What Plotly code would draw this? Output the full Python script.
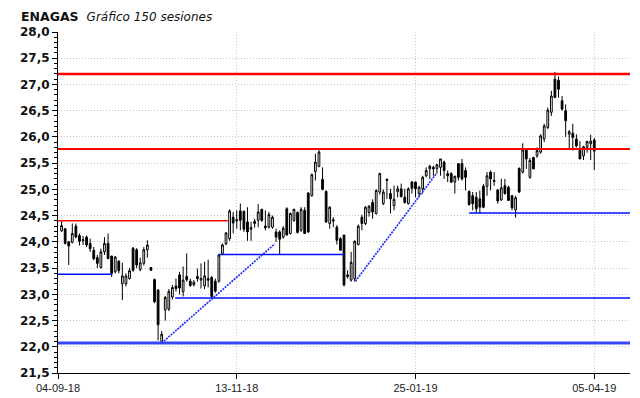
import plotly.graph_objects as go

# ---------------- data (session index 0..149) ----------------
opens = [24.21, 24.25, 24.00, 23.99, 24.30, 24.12, 24.02, 24.09, 23.97, 23.84,
         23.70, 23.51, 23.81, 23.97, 23.73, 23.43, 23.63, 23.20, 23.20, 23.30,
         23.88, 23.85, 23.47, 23.59, 23.85, 23.51, 23.28, 23.08, 22.09, 22.70,
         22.72, 22.95, 23.16, 23.37, 23.05, 23.34, 23.25, 23.18, 23.34, 23.27,
         23.16, 23.30, 23.32, 23.25, 23.25, 23.78, 23.96, 24.06, 24.47, 24.40,
         24.59, 24.58, 24.38, 24.24, 24.35, 24.41, 24.62, 24.30, 24.28, 24.28,
         24.19, 24.19, 24.09, 24.63, 24.16, 24.41, 24.56, 24.22, 24.60, 24.93,
         24.88, 25.34, 25.44, 25.19, 24.96, 24.35, 24.42, 24.28, 24.06, 24.13,
         23.37, 23.27, 23.30, 23.95, 24.47, 24.35, 24.56, 24.75, 24.54, 24.95,
         24.73, 25.17, 24.92, 24.69, 24.96, 25.01, 24.85, 24.73, 25.14, 25.14,
         24.92, 25.01, 25.26, 25.39, 25.42, 25.40, 25.42, 25.52, 25.30, 25.30,
         25.14, 25.49, 25.49, 25.36, 24.96, 24.88, 24.85, 24.82, 25.06, 25.06,
         25.33, 25.15, 24.99, 24.80, 25.07, 25.04, 24.88, 24.61, 25.40, 25.33,
         25.75, 25.23, 25.61, 25.64, 25.71, 25.96, 26.18, 26.47, 27.10, 27.08,
         26.69, 26.50, 26.05, 26.07, 25.96, 25.77, 25.64, 25.80, 25.87, 25.94]
highs = [24.39, 24.26, 24.01, 24.35, 24.35, 24.16, 24.11, 24.12, 24.06, 23.90,
         23.75, 23.87, 24.09, 24.16, 23.73, 23.73, 23.65, 23.60, 23.40, 23.50,
         23.90, 23.88, 23.70, 23.90, 24.03, 23.52, 23.30, 23.10, 22.30, 22.97,
         23.10, 23.18, 23.30, 23.43, 23.53, 23.78, 23.30, 23.27, 23.49, 23.59,
         23.62, 23.66, 23.35, 23.30, 23.77, 23.97, 24.19, 24.62, 24.57, 24.60,
         24.73, 24.60, 24.66, 24.38, 24.44, 24.72, 24.63, 24.60, 24.57, 24.50,
         24.25, 24.22, 24.30, 24.66, 24.56, 24.63, 24.58, 24.66, 24.66, 24.95,
         25.30, 25.68, 25.76, 25.42, 24.98, 24.68, 24.47, 24.32, 24.09, 24.13,
         23.46, 23.81, 24.03, 24.33, 24.52, 24.68, 24.70, 24.81, 25.00, 25.32,
         25.00, 25.21, 25.01, 25.07, 25.07, 25.11, 25.01, 25.04, 25.16, 25.15,
         25.07, 25.26, 25.42, 25.47, 25.45, 25.49, 25.58, 25.55, 25.36, 25.33,
         25.26, 25.50, 25.58, 25.42, 24.98, 24.95, 24.95, 24.98, 25.10, 25.33,
         25.36, 25.33, 25.00, 25.20, 25.20, 25.07, 24.89, 24.88, 25.42, 25.88,
         25.77, 25.60, 25.62, 25.80, 26.05, 26.25, 26.56, 26.88, 27.24, 27.15,
         26.78, 26.62, 26.13, 26.25, 26.05, 25.92, 25.83, 25.93, 26.04, 25.98]
lows = [24.19, 23.95, 23.56, 23.97, 24.07, 23.93, 23.94, 23.90, 23.81, 23.65,
        23.50, 23.49, 23.75, 23.68, 23.33, 23.40, 23.40, 22.89, 23.15, 23.28,
        23.43, 23.50, 23.44, 23.55, 23.70, 23.45, 22.83, 22.12, 22.05, 22.50,
        22.68, 22.90, 23.05, 23.00, 22.96, 23.24, 23.14, 23.15, 23.24, 23.11,
        23.10, 23.13, 22.93, 23.03, 23.22, 23.76, 23.94, 24.02, 24.16, 24.25,
        24.22, 24.19, 24.02, 24.02, 24.27, 24.28, 24.38, 24.22, 24.25, 24.25,
        24.00, 23.75, 24.06, 24.12, 24.14, 24.38, 24.16, 24.19, 24.15, 24.17,
        24.86, 25.17, 25.42, 24.98, 24.36, 24.25, 24.28, 23.95, 23.84, 23.15,
        23.30, 23.24, 23.24, 23.93, 24.22, 24.32, 24.48, 24.44, 24.52, 24.90,
        24.70, 24.82, 24.54, 24.60, 24.85, 24.85, 24.73, 24.71, 24.92, 24.85,
        24.85, 24.92, 25.23, 25.20, 25.26, 25.30, 25.26, 25.20, 25.14, 25.12,
        24.92, 25.17, 25.17, 24.98, 24.69, 24.60, 24.54, 24.54, 24.64, 24.88,
        24.98, 25.07, 24.73, 24.78, 24.90, 24.78, 24.60, 24.46, 24.93, 25.30,
        25.39, 25.20, 25.39, 25.60, 25.68, 25.90, 26.15, 26.40, 26.75, 26.75,
        26.50, 26.00, 25.75, 25.74, 25.80, 25.58, 25.56, 25.70, 25.56, 25.37]
closes = [24.31, 23.97, 23.92, 24.16, 24.09, 24.01, 24.04, 23.94, 23.87, 23.68,
          23.59, 23.81, 23.97, 23.68, 23.40, 23.71, 23.45, 23.35, 23.35, 23.45,
          23.46, 23.56, 23.60, 23.85, 23.94, 23.46, 22.86, 22.42, 22.24, 22.94,
          23.05, 23.13, 23.11, 23.12, 23.27, 23.28, 23.17, 23.23, 23.30, 23.30,
          23.35, 23.27, 22.96, 23.06, 23.75, 23.94, 24.17, 24.59, 24.36, 24.42,
          24.41, 24.24, 24.19, 24.27, 24.39, 24.57, 24.41, 24.27, 24.52, 24.47,
          24.09, 24.05, 24.26, 24.13, 24.54, 24.62, 24.18, 24.62, 24.16, 24.19,
          25.28, 25.52, 25.71, 25.00, 24.38, 24.66, 24.40, 24.03, 23.84, 23.18,
          23.34, 23.61, 24.01, 24.30, 24.35, 24.66, 24.68, 24.57, 24.98, 25.30,
          24.95, 25.19, 24.82, 24.81, 25.01, 24.86, 24.75, 25.01, 25.02, 25.01,
          25.04, 25.23, 25.36, 25.44, 25.39, 25.47, 25.58, 25.36, 25.26, 25.14,
          25.25, 25.23, 25.20, 25.23, 24.71, 24.73, 24.63, 24.66, 24.66, 25.26,
          25.20, 25.17, 24.78, 25.03, 24.92, 24.79, 24.65, 24.84, 24.95, 25.75,
          25.58, 25.55, 25.39, 25.74, 26.02, 26.21, 26.51, 26.78, 26.75, 26.91,
          26.53, 26.31, 26.10, 25.99, 25.83, 25.58, 25.81, 25.91, 25.92, 25.73]
sessions = list(range(len(closes)))

# tick labels of the date axis (session index -> label)
date_tick_sessions = [-1, 49, 99, 149]
date_tick_labels = ["04-09-18", "13-11-18", "25-01-19", "05-04-19"]

# support / resistance levels: (price, first session, last session)
red_levels = [27.20, 25.77, 24.40]
red_starts = [-1, -1, -1]
red_ends = [159, 159, 46.5]
red_widths = [2.5, 2, 1.5]
blue_levels = [22.07, 22.93, 23.76, 24.55, 23.38]
blue_starts = [-1, 31.8, 44, 114, -1]
blue_ends = [159, 159, 79, 159, 14.2]
blue_widths = [3, 1.5, 1.5, 1.5, 1.5]

# trend lines: (session, price) pairs
trend1_x = [28, 59.6]
trend1_y = [22.07, 23.96]
trend2_x = [82.2, 104.8]
trend2_y = [23.25, 25.30]

title_main = "ENAGAS"
title_sub = "Gráfico 150 sesiones"

fig = go.Figure()

for lv, s, e, w in zip(red_levels, red_starts, red_ends, red_widths):
    fig.add_trace(go.Scatter(x=[s, e], y=[lv, lv], mode="lines",
                             line=dict(color="#ff0000", width=w),
                             hoverinfo="skip", showlegend=False))
for lv, s, e, w in zip(blue_levels, blue_starts, blue_ends, blue_widths):
    fig.add_trace(go.Scatter(x=[s, e], y=[lv, lv], mode="lines",
                             line=dict(color="#0010ff" if w < 2 else "#3548ff", width=w),
                             hoverinfo="skip", showlegend=False))
for tx, ty in [(trend1_x, trend1_y), (trend2_x, trend2_y)]:
    fig.add_trace(go.Scatter(x=tx, y=ty, mode="lines",
                             line=dict(color="#2030ff", width=1.7, dash="2px,1px"),
                             hoverinfo="skip", showlegend=False))

fig.add_trace(go.Candlestick(
    x=sessions, open=opens, high=highs, low=lows, close=closes,
    increasing=dict(line=dict(color="black", width=1), fillcolor="white"),
    decreasing=dict(line=dict(color="black", width=1), fillcolor="black"),
    whiskerwidth=0, showlegend=False))

fig.update_layout(
    width=640, height=398,
    margin=dict(l=32, r=18, t=24, b=31),
    paper_bgcolor="white", plot_bgcolor="white",
    separators=",.",
    font=dict(family="Liberation Sans, Arial, sans-serif", color="#111"),
    showlegend=False,
    annotations=[
        dict(text=f"<b>{title_main}</b>&nbsp;&nbsp;<i><span style='font-size:12px'>{title_sub}</span></i>",
             xref="paper", yref="paper", x=0, y=1,
             xshift=-38, yshift=16, xanchor="left", yanchor="middle",
             showarrow=False, borderpad=0,
             font=dict(size=12.5, color="#111", family="DejaVu Sans, sans-serif")),
    ],
)

fig.update_xaxes(
    range=[-1, 159], rangeslider=dict(visible=False),
    tickmode="array", tickvals=date_tick_sessions, ticktext=date_tick_labels,
    ticks="outside", ticklen=5, tickcolor="black",
    tickfont=dict(size=11, color="#222"),
    showline=True, linecolor="black", linewidth=1,
    showgrid=True, gridcolor="#c8c8c8", griddash="1px,2px", gridwidth=1,
    zeroline=False, fixedrange=True,
)
fig.update_yaxes(
    range=[21.5, 28.0], dtick=0.5, tick0=21.5, tickformat=".1f",
    ticks="outside", ticklen=5, tickcolor="black",
    tickfont=dict(size=12, color="#111", weight="bold", family="DejaVu Sans, sans-serif"),
    minor=dict(dtick=0.1, ticks="outside", ticklen=3, tickcolor="black", showgrid=False),
    showline=True, linecolor="black", linewidth=1,
    showgrid=True, gridcolor="#c8c8c8", griddash="1px,2px", gridwidth=1,
    zeroline=False, fixedrange=True,
)

fig.write_html("out.html")
